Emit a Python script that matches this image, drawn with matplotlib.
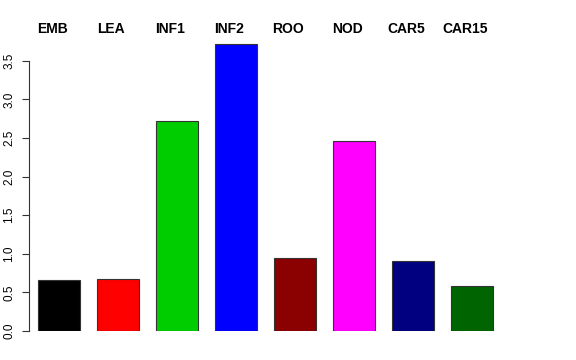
import matplotlib
matplotlib.use('Agg')
import matplotlib.pyplot as plt
import numpy as np

plt.rcParams['font.family'] = ['Liberation Sans', 'DejaVu Sans']

labels = ['EMB', 'LEA', 'INF1', 'INF2', 'ROO', 'NOD', 'CAR5', 'CAR15']
values = [0.66, 0.67, 2.72, 3.72, 0.95, 2.46, 0.91, 0.58]
colors = ['#000000', '#FF0000', '#00CD00', '#0000FF', '#8B0000', '#FF00FF', '#000080', '#006400']
yticks = [0.0, 0.5, 1.0, 1.5, 2.0, 2.5, 3.0, 3.5]

fig = plt.figure(figsize=(5.76, 3.6), dpi=100)
ax = fig.add_axes([29/576, (360-331)/360, (502-29)/576, (331-40)/360])

# barplot style: width 1, space 0.4
x = 0.4 + np.arange(len(values)) * 1.4
ax.bar(x, values, width=1, align='edge', color=colors, edgecolor='#333333', linewidth=0.8)

ax.set_xlim(0.19, 11.41)
ax.set_ylim(0, 3.77)

for s in ['top', 'right', 'bottom']:
    ax.spines[s].set_visible(False)
ax.spines['left'].set_bounds(0, 3.5)
ax.spines['left'].set_color('#333333')
ax.set_xticks([])
ax.set_yticks(yticks)
ax.set_yticklabels(['%.1f' % t for t in yticks], rotation=90, va='center', fontsize=8.5)
ax.tick_params(axis='y', length=5, width=0.8, pad=5, color='#333333')

for xi, lab in zip(x, labels):
    ax.text(xi + 0.5 - 0.16, 3.91, lab, ha='center', va='center',
            fontsize=10, fontweight='bold', clip_on=False)

fig.savefig('out.png', dpi=100)
